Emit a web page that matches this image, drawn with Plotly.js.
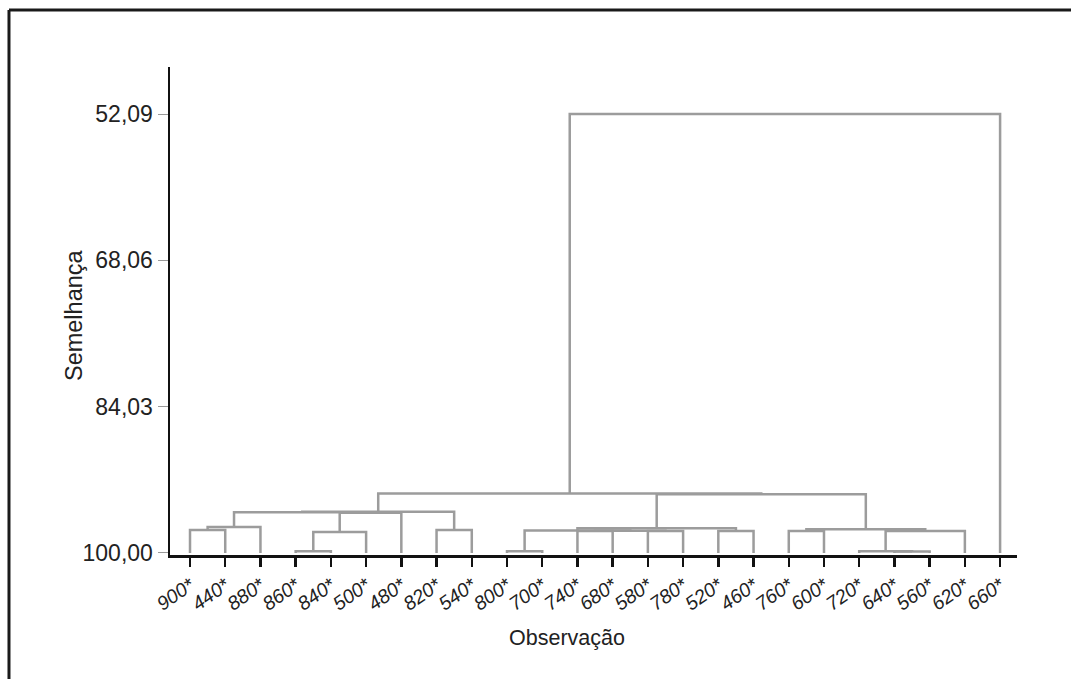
<!DOCTYPE html>
<html>
<head>
<meta charset="utf-8">
<script src="https://cdn.plot.ly/plotly-3.0.1.min.js"></script>
<style>
  html, body { margin: 0; padding: 0; background: #fff; }
  #chart { width: 1071px; height: 679px; }
</style>
</head>
<body>
<div id="chart"></div>
<script>
// Leaf labels in dendrogram order (x positions 0..23)
const leafLabels = ['900*','440*','880*','860*','840*','500*','480*','820*','540*','800*','700*','740*','680*','580*','780*','520*','460*','760*','600*','720*','640*','560*','620*','660*'];

// Merge list: node ids 0..23 are leaves, merge k creates node 24+k
const mergeLeft   = [0, 24, 3, 26, 7, 27, 25, 30,   9, 11, 13, 33, 32, 15, 36,   20, 19, 17, 40, 41,   38, 31, 45];
const mergeRight  = [1,  2, 4,  5, 8,  6, 29, 28,  10, 12, 14, 34, 35, 16, 37,   21, 39, 18, 22, 42,   43, 44, 23];
const mergeHeight = [97.49, 97.16, 99.8, 97.71, 97.49, 95.6, 95.55, 95.5,
                     99.8, 97.6, 97.6, 97.58, 97.55, 97.6, 97.3,
                     99.85, 99.8, 97.6, 97.6, 97.4,
                     93.6, 93.5, 52.09];

// Y-axis tick values / labels
const yTickVals = [52.09, 68.06, 84.03, 100.00];
const yTickText = ['52,09', '68,06', '84,03', '100,00'];
const leafHeight = 100;

// Build dendrogram segments
const nLeaves = leafLabels.length;
const nodeX = [], nodeH = [];
for (let i = 0; i < nLeaves; i++) { nodeX.push(i); nodeH.push(leafHeight); }
const xs = [], ys = [];
for (let k = 0; k < mergeLeft.length; k++) {
  const a = mergeLeft[k], b = mergeRight[k], h = mergeHeight[k];
  xs.push(nodeX[a], nodeX[a], nodeX[b], nodeX[b], null);
  ys.push(nodeH[a], h, h, nodeH[b], null);
  nodeX.push((nodeX[a] + nodeX[b]) / 2);
  nodeH.push(h);
}

const trace = {
  x: xs, y: ys, type: 'scatter', mode: 'lines',
  line: { color: '#9c9c9c', width: 2.5 },
  hoverinfo: 'skip', showlegend: false
};

const font = 'Liberation Sans, Arial, sans-serif';
const layout = {
  width: 1071, height: 679,
  margin: { l: 170, r: 54, t: 67, b: 124 },
  paper_bgcolor: '#fff', plot_bgcolor: '#fff',
  showlegend: false,
  xaxis: {
    range: [-0.568, 23.48],
    tickvals: leafLabels.map((_, i) => i),
    ticktext: leafLabels,
    tickangle: -35,
    tickfont: { family: font, size: 19.5, color: '#222', style: 'italic' },
    ticks: 'outside', ticklen: 9, tickwidth: 2.5, tickcolor: '#111',
    showline: true, linecolor: '#111', linewidth: 2.5,
    showgrid: false, zeroline: false, fixedrange: true
  },
  yaxis: {
    range: [100.22, 46.96],
    tickvals: yTickVals,
    ticktext: yTickText,
    tickfont: { family: font, size: 23, color: '#222' },
    ticks: 'outside', ticklen: 10, tickwidth: 1, tickcolor: '#999',
    showline: true, linecolor: '#111', linewidth: 2.5,
    showgrid: false, zeroline: false, fixedrange: true
  },
  annotations: [
    { text: 'Semelhança', xref: 'paper', yref: 'paper', x: -0.1133, y: 0.4918,
      textangle: -90, showarrow: false, xanchor: 'center', yanchor: 'middle',
      font: { family: font, size: 23.5, color: '#222' } },
    { text: 'Observação', xref: 'paper', yref: 'paper', x: 0.4687, y: -0.170,
      showarrow: false, xanchor: 'center', yanchor: 'middle',
      font: { family: font, size: 21.5, color: '#222' } }
  ],
  shapes: [
    { type: 'line', xref: 'paper', yref: 'paper', x0: -0.1901, x1: 1.0638, y0: 1.1168, y1: 1.1168,
      line: { color: '#1a1a1a', width: 3 } },
    { type: 'line', xref: 'paper', yref: 'paper', x0: -0.1901, x1: -0.1901, y0: 1.1168, y1: -0.2541,
      line: { color: '#1a1a1a', width: 3 } }
  ]
};

Plotly.newPlot('chart', [trace], layout, { staticPlot: true, displayModeBar: false });
</script>
</body>
</html>
